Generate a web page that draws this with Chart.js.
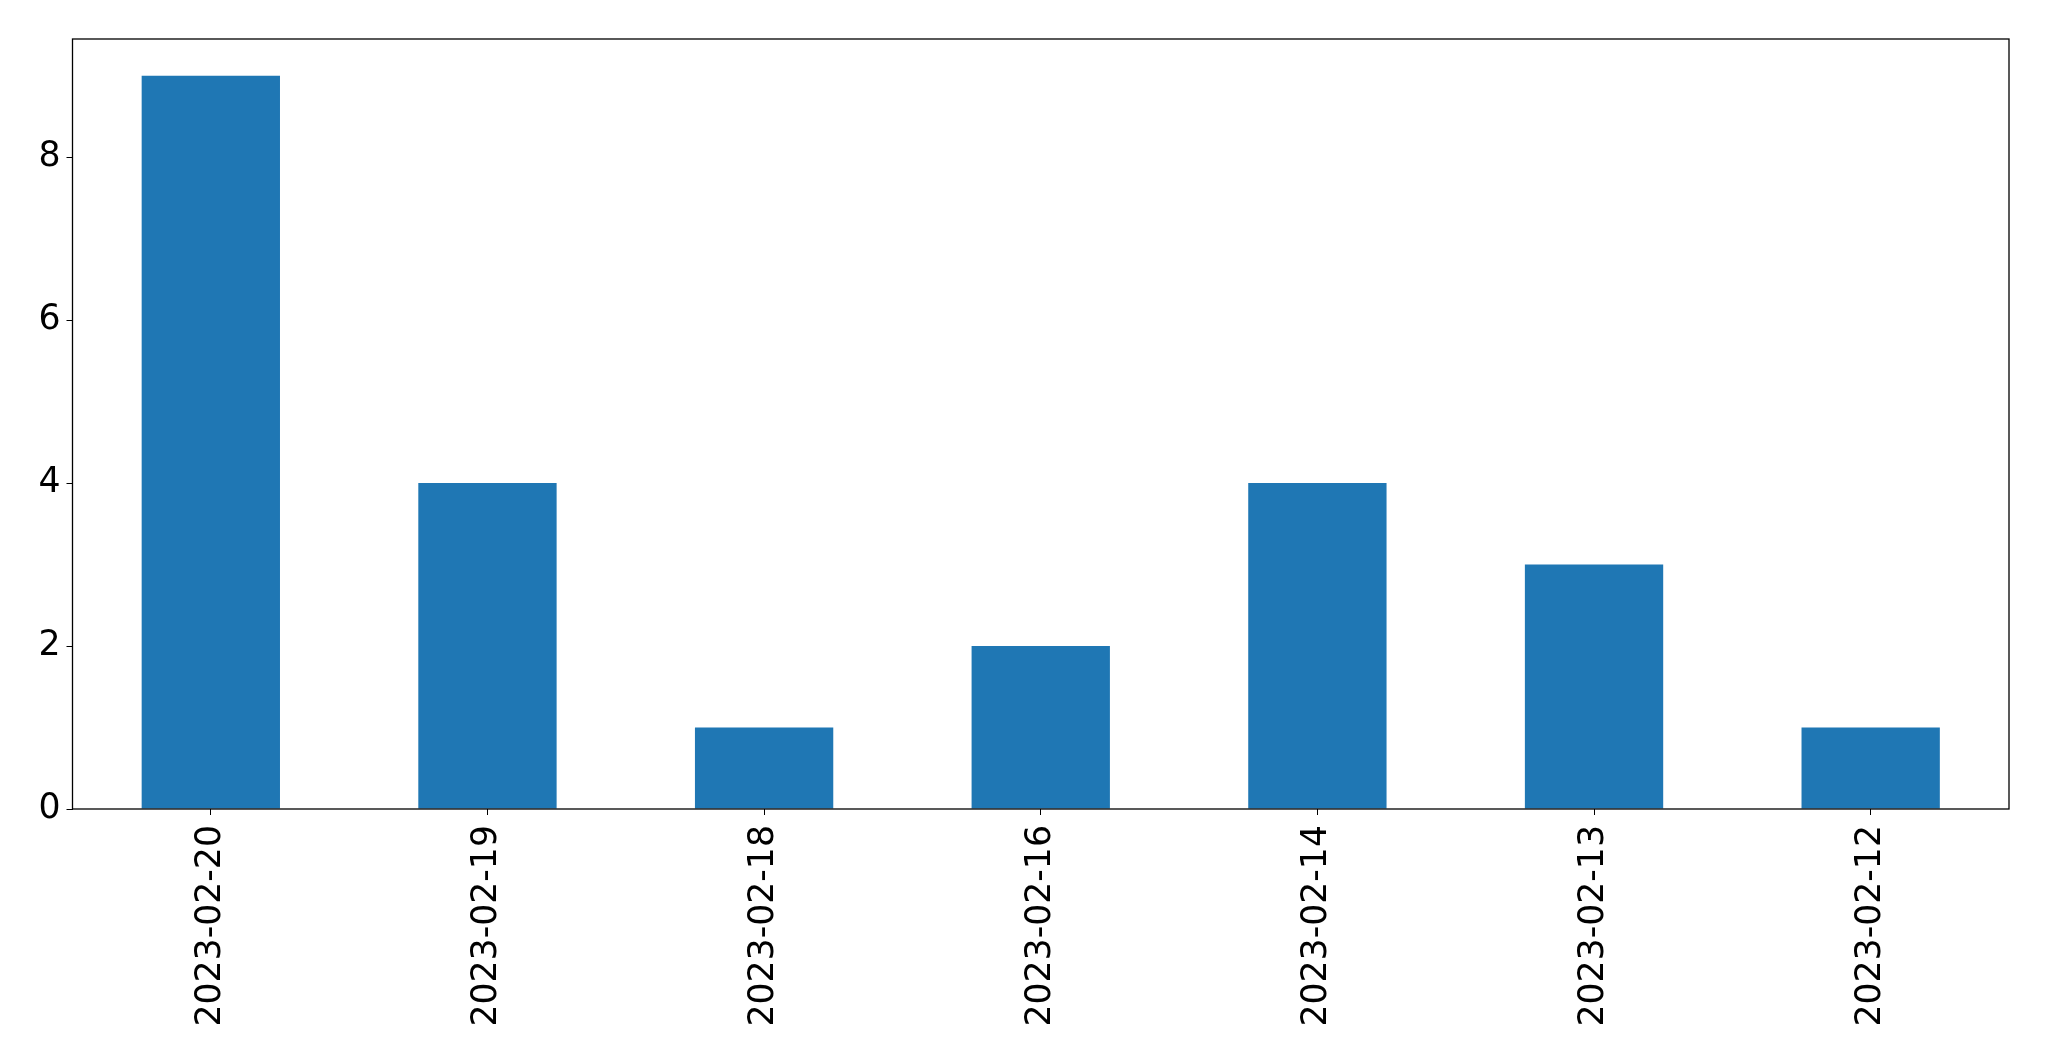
<!DOCTYPE html>
<html>
<head>
<meta charset="utf-8">
<script src="https://cdn.jsdelivr.net/npm/chart.js@4"></script>
<style>
  html, body { margin: 0; padding: 0; background: #fff; }
  canvas { display: block; }
</style>
</head>
<body>
<canvas id="barChart" width="2049" height="1061"></canvas>
<script>
const dates = ["2023-02-20", "2023-02-19", "2023-02-18", "2023-02-16", "2023-02-14", "2023-02-13", "2023-02-12"];
const counts = [9, 4, 1, 2, 4, 3, 1];
const yTicks = [0, 2, 4, 6, 8];

// box around the plot area, like matplotlib spines
const frame = {
  id: "frame",
  afterDatasetsDraw(chart) {
    const { ctx, chartArea } = chart;
    ctx.save();
    ctx.strokeStyle = "#000";
    ctx.lineWidth = 1.3;
    ctx.strokeRect(chartArea.left, chartArea.top, chartArea.right - chartArea.left, chartArea.bottom - chartArea.top);
    ctx.restore();
  },
};

const ctx = document.getElementById("barChart").getContext("2d");
new Chart(ctx, {
  type: "bar",
  data: {
    labels: dates,
    datasets: [
      {
        data: counts,
        backgroundColor: "#1f77b4",
        barPercentage: 0.5,
        categoryPercentage: 1.0,
      },
    ],
  },
  options: {
    responsive: false,
    animation: false,
    devicePixelRatio: 1,
    layout: {
      padding: { left: 0, top: 39, right: 40, bottom: 0 },
    },
    plugins: {
      legend: { display: false },
      tooltip: { enabled: false },
    },
    scales: {
      x: {
        offset: true,
        grid: {
          offset: false,
          drawOnChartArea: false,
          drawTicks: true,
          tickLength: 6,
          color: "#000",
        },
        border: { display: false },
        ticks: {
          color: "#000",
          font: { family: "DejaVu Sans", size: 34.7 },
          minRotation: 90,
          maxRotation: 90,
          padding: 10,
          autoSkip: false,
        },
        afterFit(scale) {
          scale.height = 1061 - 809;
        },
      },
      y: {
        min: 0,
        max: 9.45,
        grid: {
          drawOnChartArea: false,
          drawTicks: true,
          tickLength: 6,
          color: "#000",
        },
        border: { display: false },
        ticks: {
          color: "#000",
          font: { family: "DejaVu Sans", size: 34.7 },
          padding: 6,
        },
        afterBuildTicks(scale) {
          scale.ticks = yTicks.map((v) => ({ value: v }));
        },
        afterFit(scale) {
          scale.width = 72.5;
        },
      },
    },
  },
  plugins: [frame],
});
</script>
</body>
</html>
